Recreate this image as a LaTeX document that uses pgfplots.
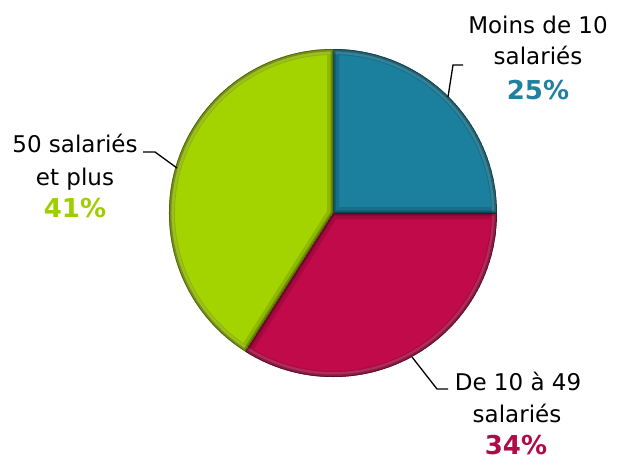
\documentclass[border=0pt]{standalone}
\usepackage{pgfplots}
\pgfplotsset{compat=1.18}
\usepackage{pgfplotstable}
\usepackage{fontspec}
\setmainfont{DejaVu Sans}
\definecolor{cA}{RGB}{26,128,158}
\definecolor{cB}{RGB}{192,10,74}
\definecolor{cC}{RGB}{164,212,0}
\definecolor{tA}{RGB}{32,128,160}
\definecolor{tB}{RGB}{176,10,72}
\definecolor{tC}{RGB}{158,206,0}
\pgfplotstableread{
label value
A 25
B 34
C 41
}\piedata
\newcommand{\mywedge}[3]{%
  \begin{scope}
  \clip (axis cs:333,213) -- ++(#1:164pt) arc[start angle=#1,end angle=#2,radius=164pt] -- cycle;
  \fill[#3] (axis cs:333,213) -- ++(#1:164pt) arc[start angle=#1,end angle=#2,radius=164pt] -- cycle;
  \draw[#3!50!white, line width=10pt, opacity=0.35] (axis cs:333,213) ++(#1:164pt) arc[start angle=#1,end angle=#2,radius=164pt];
  \draw[#3!30!black, line width=12pt, opacity=0.18] (axis cs:333,213) -- ++(#1:164pt) arc[start angle=#1,end angle=#2,radius=164pt] -- cycle;
  \draw[#3!30!black, line width=5pt, opacity=0.35] (axis cs:333,213) -- ++(#1:164pt) arc[start angle=#1,end angle=#2,radius=164pt] -- cycle;
  \draw[#3!40!black, line width=1.5pt, opacity=0.7] (axis cs:333,213) -- ++(#1:164pt) arc[start angle=#1,end angle=#2,radius=164pt] -- cycle;
  \end{scope}}
\begin{document}
\begin{tikzpicture}
\pgfplotstablegetelem{0}{value}\of\piedata \pgfmathsetmacro{\va}{\pgfplotsretval}
\pgfplotstablegetelem{1}{value}\of\piedata \pgfmathsetmacro{\vb}{\pgfplotsretval}
\pgfplotstablegetelem{2}{value}\of\piedata \pgfmathsetmacro{\vc}{\pgfplotsretval}
\pgfmathsetmacro{\aA}{90}
\pgfmathsetmacro{\aB}{90-3.6*\va}
\pgfmathsetmacro{\aC}{\aB-3.6*\vb}
\pgfmathsetmacro{\aD}{\aC-3.6*\vc}
\begin{axis}[
  scale only axis, width=619pt, height=459pt,
  xmin=0, xmax=619, ymin=0, ymax=459, y dir=reverse,
  axis lines=none, clip=false]
\mywedge{\aA}{\aB}{cA}
\mywedge{\aB}{\aC}{cB}
\mywedge{\aC}{\aD}{cC}
% leader lines
\draw[black, line width=1.3pt] (axis cs:448,97) -- (axis cs:453,65) -- (axis cs:463,65);
\draw[black, line width=1.3pt] (axis cs:177,168) -- (axis cs:155,152) -- (axis cs:143,152);
\draw[black, line width=1.3pt] (axis cs:412,357) -- (axis cs:437,389) -- (axis cs:448,389);
% labels
\node[anchor=base, font=\fontsize{23}{26}\selectfont] at (axis cs:538,33) {Moins de 10};
\node[anchor=base, font=\fontsize{23}{26}\selectfont] at (axis cs:538,64) {salariés};
\node[anchor=base, font=\fontsize{26}{30}\selectfont\bfseries, text=tA] at (axis cs:538,99) {25\%};
\node[anchor=base, font=\fontsize{23}{26}\selectfont] at (axis cs:75,152) {50 salariés};
\node[anchor=base, font=\fontsize{23}{26}\selectfont] at (axis cs:75,185) {et plus};
\node[anchor=base, font=\fontsize{26}{30}\selectfont\bfseries, text=tC] at (axis cs:75,217) {41\%};
\node[anchor=base, font=\fontsize{23}{26}\selectfont] at (axis cs:518,390) {De 10 à 49};
\node[anchor=base, font=\fontsize{23}{26}\selectfont] at (axis cs:517,422) {salariés};
\node[anchor=base, font=\fontsize{26}{30}\selectfont\bfseries, text=tB] at (axis cs:516,454) {34\%};
\path (axis cs:0,0) (axis cs:619,459);
\end{axis}
\end{tikzpicture}
\end{document}
